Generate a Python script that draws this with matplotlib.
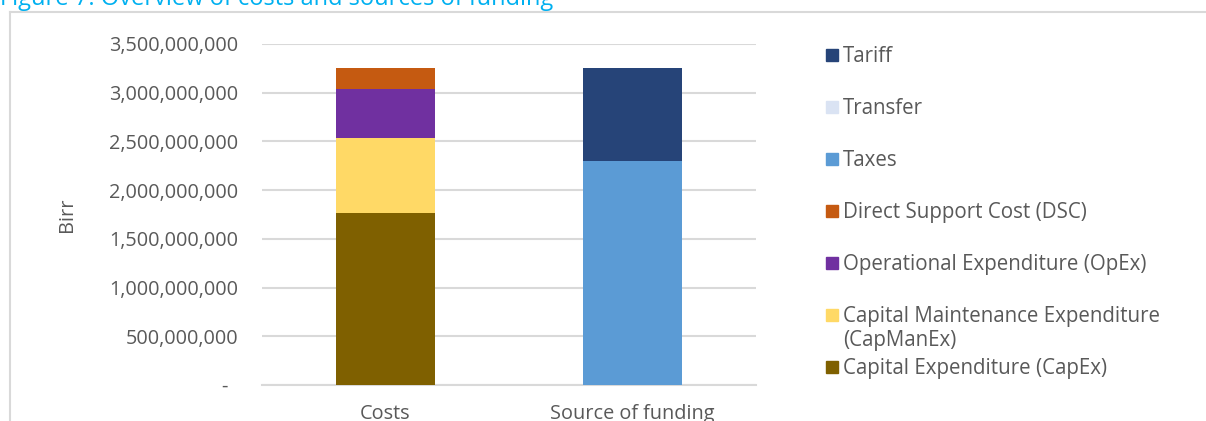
import matplotlib.pyplot as plt
from matplotlib.lines import Line2D
from matplotlib.patches import Rectangle
from matplotlib.ticker import FuncFormatter, MultipleLocator

plt.rcParams['font.family'] = ['Open Sans', 'DejaVu Sans']

# data (Birr)
categories = ['Costs', 'Source of funding']
capex = [1766000000, 0]
capmanex = [770000000, 0]
opex = [503000000, 0]
dsc = [216000000, 0]
taxes = [0, 2300000000]
transfer = [0, 0]
tariff = [0, 955000000]

series = [
    ('Capital Expenditure (CapEx)', capex, '#7F6000'),
    ('Capital Maintenance Expenditure\n(CapManEx)', capmanex, '#FFD966'),
    ('Operational Expenditure (OpEx)', opex, '#7030A0'),
    ('Direct Support Cost (DSC)', dsc, '#C55A11'),
    ('Taxes', taxes, '#5B9BD5'),
    ('Transfer', transfer, '#DAE3F3'),
    ('Tariff', tariff, '#264478'),
]

W, H = 1206, 421
fig = plt.figure(figsize=(W / 100, H / 100), dpi=100)
ax = fig.add_axes([262 / W, 1 - 385 / H, 494 / W, 341 / H])

text_col = '#595959'
grid_col = '#D9D9D9'

x = range(len(categories))
bottom = [0, 0]
for name, vals, col in series:
    ax.bar(x, vals, width=0.4, bottom=bottom, color=col, zorder=3)
    bottom = [b + v for b, v in zip(bottom, vals)]

ax.set_xlim(-0.5, 1.5)
ax.set_ylim(0, 3500000000)
ax.yaxis.set_major_locator(MultipleLocator(500000000))
ax.yaxis.set_major_formatter(FuncFormatter(lambda v, p: '-  ' if v == 0 else f'{v:,.0f}'))
ax.grid(axis='y', color=grid_col, linewidth=1.5, zorder=0)
ax.set_xticks(list(x))
ax.set_xticklabels(categories)
for s in ['top', 'right', 'left']:
    ax.spines[s].set_visible(False)
ax.spines['bottom'].set_color(grid_col)
ax.spines['bottom'].set_linewidth(1.5)
ax.tick_params(axis='both', length=0, labelsize=14.3, colors=text_col)
ax.tick_params(axis='y', pad=17)
ax.tick_params(axis='x', pad=14)

ax.set_ylabel('Birr', fontsize=14.3, color=text_col)
ax.yaxis.set_label_coords(-0.3745, 0.5)

# legend, top entry first
legend_y = [55, 107, 159, 211, 263, 315, 367]
for (name, vals, col), ly in zip(reversed(series), legend_y):
    fig.patches.append(Rectangle((826 / W, 1 - (ly + 6) / H), 12 / W, 12 / H,
                                 transform=fig.transFigure, color=col))
    fig.text(843 / W, 1 - (ly - 9) / H, name, fontsize=14.8, color=text_col,
             va='top', ha='left', linespacing=1.2)

# frame and caption
fig.lines.append(Line2D([10 / W, 1], [1 - 12 / H, 1 - 12 / H], transform=fig.transFigure,
                        color=grid_col, linewidth=1.5))
fig.lines.append(Line2D([10 / W, 10 / W], [0, 1 - 12 / H], transform=fig.transFigure,
                        color=grid_col, linewidth=1.5))
fig.text(0, 1 - 5 / H, 'Figure 7: Overview of costs and sources of funding',
         fontsize=17, color='#00B0F0', va='baseline', ha='left')

fig.savefig('out.png', dpi=100)
